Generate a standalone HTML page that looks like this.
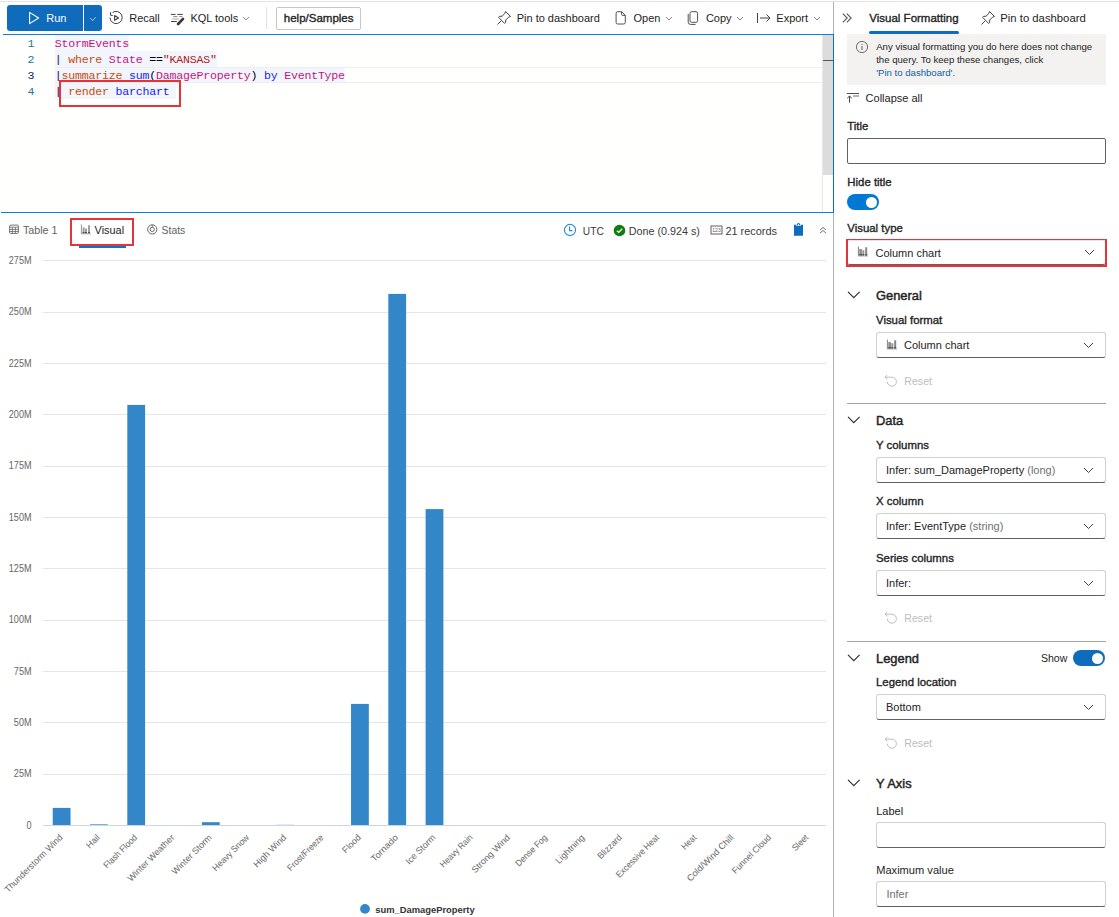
<!DOCTYPE html>
<html><head><meta charset="utf-8"><title>Kusto query - Visual formatting</title>
<style>
html,body{margin:0;padding:0;background:#fff;}
body{width:1119px;height:917px;position:relative;overflow:hidden;font-family:"Liberation Sans", Arial, sans-serif;}
.t{position:absolute;white-space:nowrap;line-height:1;}
.b{position:absolute;}
.i{position:absolute;overflow:visible;}
.m{position:absolute;white-space:pre;font-family:"Liberation Mono", "DejaVu Sans Mono", monospace;font-size:11.6px;letter-spacing:-0.21px;line-height:16px;height:16px;}
</style></head><body>
<div class="b" style="left:0px;top:1px;width:1119px;height:1px;background:#e3e3e3"></div>
<div class="b" style="left:7px;top:5px;width:95px;height:26px;background:#0f6cbd;border-radius:3px"></div>
<div class="b" style="left:83px;top:5px;width:1px;height:26px;background:#ffffff"></div>
<svg class="i" style="left:28px;top:11px;" width="12" height="14" viewBox="0 0 12 14"><path d="M1.6 1.4 L10.6 7 L1.6 12.6 Z" fill="none" stroke="#fff" stroke-width="1.1" stroke-linejoin="round"/></svg>
<div class="t" style="left:46.20px;top:12.69px;font-size:11px;font-weight:400;color:#fff;">Run</div>
<svg class="i" style="left:88px;top:15px;" width="10" height="7" viewBox="0 0 10 7"><path d="M2.1 2.8 L4.7 5.6 L7.6 2.3" fill="none" stroke="#a9c8ea" stroke-width="1"/></svg>
<svg class="i" style="left:108px;top:10px;" width="16" height="16" viewBox="0 0 16 16"><path d="M2 7.6 A6.1 6.1 0 1 0 4.6 2.5" fill="none" stroke="#424242" stroke-width="1"/><path d="M2.4 2.2 L2.7 5.3 L4.8 5.5" fill="none" stroke="#424242" stroke-width="1.1" stroke-linejoin="round"/><path d="M6.6 5.6 L10.5 7.9 L6.6 10.3 Z" fill="none" stroke="#424242" stroke-width="1.15" stroke-linejoin="round"/></svg>
<div class="t" style="left:129.20px;top:12.69px;font-size:11px;font-weight:400;color:#242424;">Recall</div>
<svg class="i" style="left:169px;top:12px;" width="17" height="14" viewBox="0 0 17 14"><path d="M1.9 2.4 H6.6 M8.2 2.4 H13.9 M2 9.5 H7.8" stroke="#444" stroke-width="1"/><path d="M4.2 4.6 H8.5 M10.3 4.6 H13.5" stroke="#8a8a8a" stroke-width="1"/><path d="M3.3 6.9 H10" stroke="#cfcfcf" stroke-width="1.8"/><path d="M14 6.9 L9.1 12" stroke="#383838" stroke-width="2.7" stroke-linecap="round"/></svg>
<div class="t" style="left:190.40px;top:12.69px;font-size:11px;font-weight:400;color:#242424;">KQL tools</div>
<svg class="i" style="left:241px;top:15px;" width="10" height="7" viewBox="0 0 10 7"><path d="M2 2 L5 5 L8 2" fill="none" stroke="#8a8a8a" stroke-width="1"/></svg>
<div class="b" style="left:266px;top:7px;width:1px;height:22px;background:#e0e0e0"></div>
<div class="b" style="left:276px;top:7px;width:83px;height:21px;border:1px solid #c7c7c7;border-radius:2px;background:#fff"></div>
<div class="t" style="left:283.80px;top:12.87px;font-size:11.5px;font-weight:400;color:#242424;-webkit-text-stroke:0.35px currentColor;">help/Samples</div>
<svg class="i" style="left:496px;top:10px;" width="16" height="16" viewBox="0 0 16 16"><path d="M9.5 1.5 L14.5 6.5 L12.5 7.2 L9.8 9.9 L9.6 12.6 L8.6 13.4 L2.6 7.4 L3.4 6.4 L6.1 6.2 L8.8 3.5 Z M5.2 10.8 L1.5 14.5" fill="none" stroke="#424242" stroke-width="1" stroke-linejoin="round"/></svg>
<div class="t" style="left:516.70px;top:12.69px;font-size:11px;font-weight:400;color:#242424;">Pin to dashboard</div>
<svg class="i" style="left:614px;top:10px;" width="14" height="16" viewBox="0 0 14 16"><path d="M3.7 1.7 H7.6 L11.3 5.4 V12.4 A1.6 1.6 0 0 1 9.7 14 H3.7 A1.6 1.6 0 0 1 2.1 12.4 V3.3 A1.6 1.6 0 0 1 3.7 1.7 Z M7.6 1.7 V4.4 A1 1 0 0 0 8.6 5.4 H11.3" fill="none" stroke="#505050" stroke-width="1" stroke-linejoin="round"/></svg>
<div class="t" style="left:633.50px;top:12.69px;font-size:11px;font-weight:400;color:#242424;">Open</div>
<svg class="i" style="left:664px;top:15px;" width="10" height="7" viewBox="0 0 10 7"><path d="M2 2 L5 5 L8 2" fill="none" stroke="#8a8a8a" stroke-width="1"/></svg>
<svg class="i" style="left:686px;top:10px;" width="14" height="16" viewBox="0 0 14 16"><rect x="4" y="1.7" width="7.6" height="10.6" rx="1.6" fill="none" stroke="#505050"/><path d="M2.2 4 V12.2 A2.2 2.2 0 0 0 4.4 14.4 H9.6" fill="none" stroke="#505050"/></svg>
<div class="t" style="left:705.90px;top:12.69px;font-size:11px;font-weight:400;color:#242424;">Copy</div>
<svg class="i" style="left:735px;top:15px;" width="10" height="7" viewBox="0 0 10 7"><path d="M2 2 L5 5 L8 2" fill="none" stroke="#8a8a8a" stroke-width="1"/></svg>
<svg class="i" style="left:756px;top:11px;" width="16" height="14" viewBox="0 0 16 14"><path d="M1.5 2 V12 M4 7 H14 M10.5 3.5 L14 7 L10.5 10.5" fill="none" stroke="#424242" stroke-width="1"/></svg>
<div class="t" style="left:776.30px;top:12.69px;font-size:11px;font-weight:400;color:#242424;">Export</div>
<svg class="i" style="left:812px;top:15px;" width="10" height="7" viewBox="0 0 10 7"><path d="M2 2 L5 5 L8 2" fill="none" stroke="#8a8a8a" stroke-width="1"/></svg>
<div class="b" style="left:1px;top:34px;width:833px;height:179px;background:#fffffe"></div>
<div class="b" style="left:3px;top:34px;width:831px;height:1px;background:#0a7fe0"></div>
<div class="b" style="left:833px;top:34px;width:1px;height:179px;background:#0a6fc4"></div>
<div class="b" style="left:1px;top:212px;width:833px;height:1px;background:#0a7fe0"></div>
<div class="b" style="left:822px;top:35px;width:1px;height:177px;background:#e8e8e8"></div>
<div class="b" style="left:823px;top:35px;width:10px;height:140px;background:#dcdcdc"></div>
<div class="b" style="left:823px;top:60px;width:10px;height:1px;background:#555"></div>
<div class="b" style="left:55px;top:67px;width:767px;height:16px;border:1px solid #eeeeee;border-right:none;box-sizing:border-box"></div>
<div class="b" style="left:54.7px;top:35px;width:74.25px;height:16px;background:#f2f6fc"></div>
<div class="b" style="left:54.7px;top:51px;width:162.0px;height:16px;background:#f2f6fc"></div>
<div class="b" style="left:54.7px;top:68px;width:290.25px;height:14px;background:#f2f6fc"></div>
<div class="b" style="left:54.7px;top:83px;width:121.5px;height:16px;background:#f2f6fc"></div>
<div class="m" style="left:27.5px;top:36px;color:#237893">1</div>
<div class="m" style="left:27.5px;top:52px;color:#237893">2</div>
<div class="m" style="left:27.5px;top:68px;color:#0b216f">3</div>
<div class="m" style="left:27.5px;top:84px;color:#237893">4</div>
<div class="m" style="left:54.7px;top:36px"><span style="color:#c4157f">StormEvents</span></div>
<div class="m" style="left:54.7px;top:52px"><span style="color:#101c60">|</span><span style="color:#000"> </span><span style="color:#cc4a0a">where</span><span style="color:#000"> </span><span style="color:#c4157f">State</span><span style="color:#000"> ==</span><span style="color:#b52019">"KANSAS"</span></div>
<div class="m" style="left:54.7px;top:68px"><span style="color:#101c60">|</span><span style="color:#cc4a0a">summarize</span><span style="color:#000"> </span><span style="color:#1a1aff">sum</span><span style="color:#000">(</span><span style="color:#c4157f">DamageProperty</span><span style="color:#000">)</span><span style="color:#000"> </span><span style="color:#1a1aff">by</span><span style="color:#000"> </span><span style="color:#c4157f">EventType</span></div>
<div class="m" style="left:54.7px;top:84px"><span style="color:#101c60">|</span><span style="color:#000"> </span><span style="color:#cc4a0a">render</span><span style="color:#000"> </span><span style="color:#1a1aff">barchart</span></div>
<div class="b" style="left:59px;top:80px;width:122px;height:27px;border:2px solid #e8323a;box-sizing:border-box"></div>
<svg class="i" style="left:9px;top:224px;" width="11" height="11" viewBox="0 0 11 11"><rect x="0.6" y="1.1" width="8.8" height="8.3" rx="1" fill="none" stroke="#666" stroke-width="0.9"/><path d="M0.6 3.2 H9.4 M0.6 5.4 H9.4 M0.6 7.5 H9.4 M3.4 3.2 V9.4 M6.4 3.2 V9.4" fill="none" stroke="#666" stroke-width="0.8"/></svg>
<div class="t" style="left:23.00px;top:225.24px;font-size:10.7px;font-weight:400;color:#616161;">Table 1</div>
<svg class="i" style="left:80px;top:223px;" width="12" height="13" viewBox="0 0 12 13"><path d="M1.4 1.4 V10.8 H10.8" fill="none" stroke="#9a9a9a" stroke-width="1"/><rect x="2.6" y="4.3" width="2" height="6" fill="#a0a0a0"/><rect x="5" y="5.6" width="2" height="4.7" fill="#a0a0a0"/><rect x="8" y="2.3" width="2" height="8" fill="#a0a0a0"/><path d="M2.6 9.6 H4.6 M5 9.6 H7 M8 9.6 H10" stroke="#444" stroke-width="1"/></svg>
<div class="t" style="left:94.60px;top:225.07px;font-size:10.9px;font-weight:400;color:#242424;">Visual</div>
<div class="b" style="left:79px;top:246px;width:47px;height:2px;background:#0078d4"></div>
<div class="b" style="left:70px;top:218px;width:64px;height:28px;border:2px solid #e8323a;box-sizing:border-box"></div>
<svg class="i" style="left:146px;top:223px;" width="13" height="13" viewBox="0 0 13 13"><circle cx="6.25" cy="6.4" r="4.6" fill="none" stroke="#666" stroke-width="1"/><circle cx="6.25" cy="6.4" r="2.1" fill="none" stroke="#666" stroke-width="1"/><path d="M6.25 1.8 V4.3" stroke="#666" stroke-width="0.8"/></svg>
<div class="t" style="left:161.60px;top:225.50px;font-size:10.4px;font-weight:400;color:#616161;">Stats</div>
<svg class="i" style="left:563px;top:223px;" width="14" height="14" viewBox="0 0 14 14"><circle cx="7" cy="7" r="5.6" fill="none" stroke="#2b88d8" stroke-width="1.1"/><path d="M6.6 3.6 V7.6 H9.4" fill="none" stroke="#2b88d8" stroke-width="1.1"/></svg>
<div class="t" style="left:582.80px;top:226.97px;font-size:10.2px;font-weight:400;color:#3a3a3a;">UTC</div>
<svg class="i" style="left:613px;top:224px;" width="13" height="13" viewBox="0 0 13 13"><circle cx="6.5" cy="6.5" r="5.8" fill="#107c10"/><path d="M3.9 6.7 L5.7 8.4 L9.2 4.8" fill="none" stroke="#fff" stroke-width="1.3"/></svg>
<div class="t" style="left:628.80px;top:225.80px;font-size:10.75px;font-weight:400;color:#3a3a3a;">Done (0.924 s)</div>
<svg class="i" style="left:710px;top:225px;" width="13" height="10" viewBox="0 0 13 10"><rect x="1" y="1" width="11" height="8" fill="none" stroke="#616161"/><text x="6.5" y="7" font-size="5" text-anchor="middle" fill="#616161" font-family="Liberation Sans, sans-serif">123</text></svg>
<div class="t" style="left:725.40px;top:226.33px;font-size:10.95px;font-weight:400;color:#3a3a3a;">21 records</div>
<svg class="i" style="left:793px;top:222px;" width="12" height="15" viewBox="0 0 12 15"><path d="M1 2.8 H3.2 V3.9 H7.8 V2.8 H10 V13.7 H1 Z" fill="#0f6cbd"/><path d="M4.1 3.6 L4.5 2.2 Q5.5 0.7 6.5 2.2 L6.9 3.6" fill="none" stroke="#0f6cbd" stroke-width="1.1"/></svg>
<svg class="i" style="left:818px;top:226px;" width="10" height="8" viewBox="0 0 10 8"><path d="M2 4 L5 1.5 L8 4 M2 7 L5 4.5 L8 7" fill="none" stroke="#616161" stroke-width="0.9"/></svg>
<div class="b" style="left:833px;top:2px;width:1px;height:32px;background:#b0b0b0"></div>
<div class="b" style="left:833px;top:213px;width:1px;height:704px;background:#b0b0b0"></div>
<svg class="i" style="left:0;top:0" width="833" height="917" viewBox="0 0 833 917"><path d="M43 774.5 H826" stroke="#e6e6e6" stroke-width="1"/><path d="M43 722.5 H826" stroke="#e6e6e6" stroke-width="1"/><path d="M43 671.5 H826" stroke="#e6e6e6" stroke-width="1"/><path d="M43 620.5 H826" stroke="#e6e6e6" stroke-width="1"/><path d="M43 568.5 H826" stroke="#e6e6e6" stroke-width="1"/><path d="M43 517.5 H826" stroke="#e6e6e6" stroke-width="1"/><path d="M43 466.5 H826" stroke="#e6e6e6" stroke-width="1"/><path d="M43 414.5 H826" stroke="#e6e6e6" stroke-width="1"/><path d="M43 363.5 H826" stroke="#e6e6e6" stroke-width="1"/><path d="M43 312.5 H826" stroke="#e6e6e6" stroke-width="1"/><path d="M43 260.5 H826" stroke="#e6e6e6" stroke-width="1"/><text x="0" y="0" transform="translate(31.5 828.50) scale(0.89 1)" text-anchor="end" font-size="10.2" fill="#666" font-family="Liberation Sans, sans-serif">0</text><text x="0" y="0" transform="translate(31.5 777.18) scale(0.89 1)" text-anchor="end" font-size="10.2" fill="#666" font-family="Liberation Sans, sans-serif">25M</text><text x="0" y="0" transform="translate(31.5 725.86) scale(0.89 1)" text-anchor="end" font-size="10.2" fill="#666" font-family="Liberation Sans, sans-serif">50M</text><text x="0" y="0" transform="translate(31.5 674.55) scale(0.89 1)" text-anchor="end" font-size="10.2" fill="#666" font-family="Liberation Sans, sans-serif">75M</text><text x="0" y="0" transform="translate(31.5 623.23) scale(0.89 1)" text-anchor="end" font-size="10.2" fill="#666" font-family="Liberation Sans, sans-serif">100M</text><text x="0" y="0" transform="translate(31.5 571.91) scale(0.89 1)" text-anchor="end" font-size="10.2" fill="#666" font-family="Liberation Sans, sans-serif">125M</text><text x="0" y="0" transform="translate(31.5 520.59) scale(0.89 1)" text-anchor="end" font-size="10.2" fill="#666" font-family="Liberation Sans, sans-serif">150M</text><text x="0" y="0" transform="translate(31.5 469.27) scale(0.89 1)" text-anchor="end" font-size="10.2" fill="#666" font-family="Liberation Sans, sans-serif">175M</text><text x="0" y="0" transform="translate(31.5 417.95) scale(0.89 1)" text-anchor="end" font-size="10.2" fill="#666" font-family="Liberation Sans, sans-serif">200M</text><text x="0" y="0" transform="translate(31.5 366.64) scale(0.89 1)" text-anchor="end" font-size="10.2" fill="#666" font-family="Liberation Sans, sans-serif">225M</text><text x="0" y="0" transform="translate(31.5 315.32) scale(0.89 1)" text-anchor="end" font-size="10.2" fill="#666" font-family="Liberation Sans, sans-serif">250M</text><text x="0" y="0" transform="translate(31.5 264.00) scale(0.89 1)" text-anchor="end" font-size="10.2" fill="#666" font-family="Liberation Sans, sans-serif">275M</text><rect x="52.74" y="807.90" width="17.8" height="17.10" fill="#3387c8"/><rect x="90.03" y="824.35" width="17.8" height="0.65" fill="#3387c8"/><rect x="127.31" y="404.90" width="17.8" height="420.10" fill="#3387c8"/><rect x="201.89" y="822.20" width="17.8" height="2.80" fill="#3387c8"/><rect x="276.46" y="824.85" width="17.8" height="0.15" fill="#3387c8"/><rect x="351.03" y="703.90" width="17.8" height="121.10" fill="#3387c8"/><rect x="388.31" y="293.90" width="17.8" height="531.10" fill="#3387c8"/><rect x="425.60" y="509.10" width="17.8" height="315.90" fill="#3387c8"/><path d="M43 825.5 H826" stroke="#ccd6eb" stroke-width="1"/><text x="0" y="0" text-anchor="end" transform="translate(63.14 838.1) rotate(-45) scale(0.983 1)" font-size="9" fill="#666" font-family="Liberation Sans, sans-serif">Thunderstorm Wind</text><text x="0" y="0" text-anchor="end" transform="translate(100.43 838.1) rotate(-45) scale(0.986 1)" font-size="9" fill="#666" font-family="Liberation Sans, sans-serif">Hail</text><text x="0" y="0" text-anchor="end" transform="translate(137.71 838.1) rotate(-45) scale(0.926 1)" font-size="9" fill="#666" font-family="Liberation Sans, sans-serif">Flash Flood</text><text x="0" y="0" text-anchor="end" transform="translate(175.00 838.1) rotate(-45) scale(0.996 1)" font-size="9" fill="#666" font-family="Liberation Sans, sans-serif">Winter Weather</text><text x="0" y="0" text-anchor="end" transform="translate(212.29 838.1) rotate(-45) scale(0.996 1)" font-size="9" fill="#666" font-family="Liberation Sans, sans-serif">Winter Storm</text><text x="0" y="0" text-anchor="end" transform="translate(249.57 838.1) rotate(-45) scale(0.941 1)" font-size="9" fill="#666" font-family="Liberation Sans, sans-serif">Heavy Snow</text><text x="0" y="0" text-anchor="end" transform="translate(286.86 838.1) rotate(-45) scale(1.018 1)" font-size="9" fill="#666" font-family="Liberation Sans, sans-serif">High Wind</text><text x="0" y="0" text-anchor="end" transform="translate(324.14 838.1) rotate(-45) scale(0.923 1)" font-size="9" fill="#666" font-family="Liberation Sans, sans-serif">Frost/Freeze</text><text x="0" y="0" text-anchor="end" transform="translate(361.43 838.1) rotate(-45) scale(0.979 1)" font-size="9" fill="#666" font-family="Liberation Sans, sans-serif">Flood</text><text x="0" y="0" text-anchor="end" transform="translate(398.71 838.1) rotate(-45) scale(1.052 1)" font-size="9" fill="#666" font-family="Liberation Sans, sans-serif">Tornado</text><text x="0" y="0" text-anchor="end" transform="translate(436.00 838.1) rotate(-45) scale(0.986 1)" font-size="9" fill="#666" font-family="Liberation Sans, sans-serif">Ice Storm</text><text x="0" y="0" text-anchor="end" transform="translate(473.29 838.1) rotate(-45) scale(0.907 1)" font-size="9" fill="#666" font-family="Liberation Sans, sans-serif">Heavy Rain</text><text x="0" y="0" text-anchor="end" transform="translate(510.57 838.1) rotate(-45) scale(1.014 1)" font-size="9" fill="#666" font-family="Liberation Sans, sans-serif">Strong Wind</text><text x="0" y="0" text-anchor="end" transform="translate(547.86 838.1) rotate(-45) scale(0.93 1)" font-size="9" fill="#666" font-family="Liberation Sans, sans-serif">Dense Fog</text><text x="0" y="0" text-anchor="end" transform="translate(585.14 838.1) rotate(-45) scale(1.015 1)" font-size="9" fill="#666" font-family="Liberation Sans, sans-serif">Lightning</text><text x="0" y="0" text-anchor="end" transform="translate(622.43 838.1) rotate(-45) scale(0.95 1)" font-size="9" fill="#666" font-family="Liberation Sans, sans-serif">Blizzard</text><text x="0" y="0" text-anchor="end" transform="translate(659.71 838.1) rotate(-45) scale(0.92 1)" font-size="9" fill="#666" font-family="Liberation Sans, sans-serif">Excessive Heat</text><text x="0" y="0" text-anchor="end" transform="translate(697.00 838.1) rotate(-45) scale(0.902 1)" font-size="9" fill="#666" font-family="Liberation Sans, sans-serif">Heat</text><text x="0" y="0" text-anchor="end" transform="translate(734.29 838.1) rotate(-45) scale(1.011 1)" font-size="9" fill="#666" font-family="Liberation Sans, sans-serif">Cold/Wind Chill</text><text x="0" y="0" text-anchor="end" transform="translate(771.57 838.1) rotate(-45) scale(0.954 1)" font-size="9" fill="#666" font-family="Liberation Sans, sans-serif">Funnel Cloud</text><text x="0" y="0" text-anchor="end" transform="translate(808.86 838.1) rotate(-45) scale(0.928 1)" font-size="9" fill="#666" font-family="Liberation Sans, sans-serif">Sleet</text><circle cx="365" cy="908.9" r="4.9" fill="#3387c8"/><text x="375.2" y="912.7" font-size="9.4" font-weight="700" fill="#333" font-family="Liberation Sans, sans-serif">sum_DamageProperty</text></svg>
<svg class="i" style="left:841px;top:12px;" width="12" height="12" viewBox="0 0 12 12"><path d="M1.8 1.6 L6.2 6 L1.8 10.4 M5.8 1.6 L10.2 6 L5.8 10.4" fill="none" stroke="#555" stroke-width="1.1"/></svg>
<div class="t" style="left:869.30px;top:12.57px;font-size:11.5px;font-weight:400;color:#242424;-webkit-text-stroke:0.35px currentColor;">Visual Formatting</div>
<div class="b" style="left:869px;top:31px;width:90px;height:3px;background:#0f6cbd;border-radius:1.5px"></div>
<svg class="i" style="left:980px;top:10px;" width="16" height="16" viewBox="0 0 16 16"><path d="M9.5 1.5 L14.5 6.5 L12.5 7.2 L9.8 9.9 L9.6 12.6 L8.6 13.4 L2.6 7.4 L3.4 6.4 L6.1 6.2 L8.8 3.5 Z M5.2 10.8 L1.5 14.5" fill="none" stroke="#424242" stroke-width="1" stroke-linejoin="round"/></svg>
<div class="t" style="left:1000.30px;top:13.03px;font-size:11.3px;font-weight:400;color:#242424;">Pin to dashboard</div>
<div class="b" style="left:847px;top:34px;width:259px;height:51px;background:#f3f2f1"></div>
<svg class="i" style="left:855px;top:40px;" width="14" height="14" viewBox="0 0 14 14"><circle cx="7" cy="7" r="5.6" fill="none" stroke="#616161" stroke-width="0.9"/><path d="M7 6 V10" stroke="#616161" stroke-width="1"/><circle cx="7" cy="4.3" r="0.6" fill="#616161"/></svg>
<div class="t" style="left:876.20px;top:41.57px;font-size:9.6px;font-weight:400;color:#242424;">Any visual formatting you do here does not change</div>
<div class="t" style="left:876.20px;top:54.77px;font-size:9.6px;font-weight:400;color:#242424;">the query. To keep these changes, click</div>
<div class="t" style="left:876.20px;top:67.57px;font-size:9.6px;font-weight:400;color:#115ea3;">'Pin to dashboard'.</div>
<svg class="i" style="left:846px;top:91px;" width="15" height="14" viewBox="0 0 15 14"><path d="M0.8 2.5 H13" stroke="#505050" stroke-width="1"/><path d="M7.1 5 H13" stroke="#9a9a9a" stroke-width="1.5"/><path d="M3.5 11.6 V5.2 M1.2 7.3 L3.5 5 L5.8 7.3" fill="none" stroke="#404040" stroke-width="1"/></svg>
<div class="t" style="left:865.60px;top:93.09px;font-size:11px;font-weight:400;color:#242424;">Collapse all</div>
<div class="t" style="left:847.30px;top:121.05px;font-size:11.4px;font-weight:400;color:#242424;-webkit-text-stroke:0.35px currentColor;">Title</div>
<div class="b" style="left:847px;top:138px;width:259px;height:26px;border:1px solid #616161;border-radius:2px;box-sizing:border-box;background:#fff"></div>
<div class="t" style="left:847.30px;top:177.15px;font-size:11.4px;font-weight:400;color:#242424;-webkit-text-stroke:0.35px currentColor;">Hide title</div>
<div class="b" style="left:847px;top:194px;width:32px;height:16px;background:#0078d4;border-radius:8px"></div>
<div class="b" style="left:866px;top:196.5px;width:11px;height:11px;border-radius:50%;background:#fff"></div>
<div class="t" style="left:847.30px;top:222.65px;font-size:11.4px;font-weight:400;color:#242424;-webkit-text-stroke:0.35px currentColor;">Visual type</div>
<div class="b" style="left:847px;top:240px;width:259px;height:25px;border:1px solid #dfe8e8;border-bottom-color:#616161;border-radius:3px;box-sizing:border-box;background:#fff"></div>
<div class="b" style="left:846px;top:239px;width:261px;height:28px;border:2px solid #e8323a;border-top-width:1.5px;box-sizing:border-box"></div>
<svg class="i" style="left:857px;top:246px;" width="12" height="12" viewBox="0 0 12 12"><rect x="2.3" y="3" width="2.6" height="7" fill="#8c8c8c"/><rect x="5.3" y="4.2" width="2" height="5.8" fill="#969696"/><rect x="8.2" y="1.3" width="2" height="8.7" fill="#858585"/><path d="M2.3 8.9 H4.9 M5.3 8.9 H7.3 M8.2 8.9 H10.2" stroke="#3a3a3a" stroke-width="1.2"/><path d="M1.4 0.6 V10.2" stroke="#8a7a9a" stroke-width="1"/><path d="M1.4 10.2 H11" stroke="#c0c0c8" stroke-width="1"/></svg>
<div class="t" style="left:875.50px;top:247.99px;font-size:11px;color:#242424">Column chart</div>
<svg class="i" style="left:1084px;top:249px;" width="12" height="7" viewBox="0 0 12 7"><path d="M1 1 L5.5 5.5 L10 1" fill="none" stroke="#424242" stroke-width="1"/></svg>
<div class="t" style="left:876.00px;top:290.18px;font-size:12.9px;font-weight:400;color:#242424;-webkit-text-stroke:0.45px currentColor;">General</div>
<svg class="i" style="left:846px;top:290px;" width="15" height="10" viewBox="0 0 15 10"><path d="M2 1.8 L7.8 7.6 L13.6 1.8" fill="none" stroke="#303030" stroke-width="1.15"/></svg>
<div class="t" style="left:876.00px;top:315.35px;font-size:11.4px;font-weight:400;color:#242424;-webkit-text-stroke:0.35px currentColor;">Visual format</div>
<div class="b" style="left:876px;top:332px;width:230px;height:26px;border:1px solid #d1d1d1;border-bottom-color:#616161;border-radius:3px;box-sizing:border-box;background:#fff"></div>
<svg class="i" style="left:886px;top:339px;" width="12" height="12" viewBox="0 0 12 12"><rect x="2.3" y="3" width="2.6" height="7" fill="#8c8c8c"/><rect x="5.3" y="4.2" width="2" height="5.8" fill="#969696"/><rect x="8.2" y="1.3" width="2" height="8.7" fill="#858585"/><path d="M2.3 8.9 H4.9 M5.3 8.9 H7.3 M8.2 8.9 H10.2" stroke="#3a3a3a" stroke-width="1.2"/><path d="M1.4 0.6 V10.2" stroke="#8a7a9a" stroke-width="1"/><path d="M1.4 10.2 H11" stroke="#c0c0c8" stroke-width="1"/></svg>
<div class="t" style="left:904.00px;top:339.69px;font-size:11px;color:#242424">Column chart</div>
<svg class="i" style="left:1083px;top:342px;" width="12" height="7" viewBox="0 0 12 7"><path d="M1 1 L5.5 5.5 L10 1" fill="none" stroke="#424242" stroke-width="1"/></svg>
<svg class="i" style="left:884px;top:373px;" width="14" height="14" viewBox="0 0 14 14"><path d="M1 4.2 H7.9 A4.5 4.5 0 1 1 3.4 8.7" fill="none" stroke="#bdbdbd" stroke-width="1"/><path d="M3.3 2 L1 4.2 L3.3 6.4" fill="none" stroke="#bdbdbd" stroke-width="1"/></svg>
<div class="t" style="left:904.30px;top:376.03px;font-size:10.6px;font-weight:400;color:#bdbdbd;">Reset</div>
<div class="b" style="left:847px;top:403px;width:259px;height:1px;background:#a3a3a3"></div>
<svg class="i" style="left:846px;top:415px;" width="15" height="10" viewBox="0 0 15 10"><path d="M2 1.8 L7.8 7.6 L13.6 1.8" fill="none" stroke="#303030" stroke-width="1.15"/></svg>
<div class="t" style="left:876.00px;top:415.18px;font-size:12.9px;font-weight:400;color:#242424;-webkit-text-stroke:0.45px currentColor;">Data</div>
<div class="t" style="left:876.00px;top:440.15px;font-size:11.4px;font-weight:400;color:#242424;-webkit-text-stroke:0.35px currentColor;">Y columns</div>
<div class="b" style="left:876px;top:457px;width:230px;height:26px;border:1px solid #d1d1d1;border-bottom-color:#616161;border-radius:3px;box-sizing:border-box;background:#fff"></div>
<div class="t" style="left:886.00px;top:464.69px;font-size:11px;color:#242424">Infer: sum_DamageProperty <span style="color:#707070">(long)</span></div>
<svg class="i" style="left:1083px;top:467px;" width="12" height="7" viewBox="0 0 12 7"><path d="M1 1 L5.5 5.5 L10 1" fill="none" stroke="#424242" stroke-width="1"/></svg>
<div class="t" style="left:876.00px;top:495.95px;font-size:11.4px;font-weight:400;color:#242424;-webkit-text-stroke:0.35px currentColor;">X column</div>
<div class="b" style="left:876px;top:513px;width:230px;height:26px;border:1px solid #d1d1d1;border-bottom-color:#616161;border-radius:3px;box-sizing:border-box;background:#fff"></div>
<div class="t" style="left:886.00px;top:520.69px;font-size:11px;color:#242424">Infer: EventType <span style="color:#707070">(string)</span></div>
<svg class="i" style="left:1083px;top:523px;" width="12" height="7" viewBox="0 0 12 7"><path d="M1 1 L5.5 5.5 L10 1" fill="none" stroke="#424242" stroke-width="1"/></svg>
<div class="t" style="left:876.00px;top:553.25px;font-size:11.4px;font-weight:400;color:#242424;-webkit-text-stroke:0.35px currentColor;">Series columns</div>
<div class="b" style="left:876px;top:570px;width:230px;height:26px;border:1px solid #d1d1d1;border-bottom-color:#616161;border-radius:3px;box-sizing:border-box;background:#fff"></div>
<div class="t" style="left:886.00px;top:577.69px;font-size:11px;color:#242424">Infer:</div>
<svg class="i" style="left:1083px;top:580px;" width="12" height="7" viewBox="0 0 12 7"><path d="M1 1 L5.5 5.5 L10 1" fill="none" stroke="#424242" stroke-width="1"/></svg>
<svg class="i" style="left:884px;top:610px;" width="14" height="14" viewBox="0 0 14 14"><path d="M1 4.2 H7.9 A4.5 4.5 0 1 1 3.4 8.7" fill="none" stroke="#bdbdbd" stroke-width="1"/><path d="M3.3 2 L1 4.2 L3.3 6.4" fill="none" stroke="#bdbdbd" stroke-width="1"/></svg>
<div class="t" style="left:904.30px;top:613.23px;font-size:10.6px;font-weight:400;color:#bdbdbd;">Reset</div>
<div class="b" style="left:847px;top:641px;width:259px;height:1px;background:#a3a3a3"></div>
<svg class="i" style="left:846px;top:653px;" width="15" height="10" viewBox="0 0 15 10"><path d="M2 1.8 L7.8 7.6 L13.6 1.8" fill="none" stroke="#303030" stroke-width="1.15"/></svg>
<div class="t" style="left:876.00px;top:652.98px;font-size:12.9px;font-weight:400;color:#242424;-webkit-text-stroke:0.45px currentColor;">Legend</div>
<div class="t" style="left:1041.00px;top:653.31px;font-size:10.5px;font-weight:400;color:#242424;">Show</div>
<div class="b" style="left:1073px;top:650px;width:32px;height:16px;background:#0f6cbd;border-radius:8px"></div>
<div class="b" style="left:1091.7px;top:652.7px;width:11px;height:11px;border-radius:50%;background:#fff"></div>
<div class="t" style="left:876.00px;top:677.05px;font-size:11.4px;font-weight:400;color:#242424;-webkit-text-stroke:0.35px currentColor;">Legend location</div>
<div class="b" style="left:876px;top:694px;width:230px;height:26px;border:1px solid #d1d1d1;border-bottom-color:#616161;border-radius:3px;box-sizing:border-box;background:#fff"></div>
<div class="t" style="left:886.00px;top:701.69px;font-size:11px;color:#242424">Bottom</div>
<svg class="i" style="left:1083px;top:704px;" width="12" height="7" viewBox="0 0 12 7"><path d="M1 1 L5.5 5.5 L10 1" fill="none" stroke="#424242" stroke-width="1"/></svg>
<svg class="i" style="left:884px;top:735px;" width="14" height="14" viewBox="0 0 14 14"><path d="M1 4.2 H7.9 A4.5 4.5 0 1 1 3.4 8.7" fill="none" stroke="#bdbdbd" stroke-width="1"/><path d="M3.3 2 L1 4.2 L3.3 6.4" fill="none" stroke="#bdbdbd" stroke-width="1"/></svg>
<div class="t" style="left:904.30px;top:738.03px;font-size:10.6px;font-weight:400;color:#bdbdbd;">Reset</div>
<svg class="i" style="left:846px;top:778px;" width="15" height="10" viewBox="0 0 15 10"><path d="M2 1.8 L7.8 7.6 L13.6 1.8" fill="none" stroke="#303030" stroke-width="1.15"/></svg>
<div class="t" style="left:876.00px;top:778.18px;font-size:12.9px;font-weight:400;color:#242424;-webkit-text-stroke:0.45px currentColor;">Y Axis</div>
<div class="t" style="left:876.20px;top:806.29px;font-size:11px;font-weight:400;color:#242424;">Label</div>
<div class="b" style="left:876px;top:822px;width:230px;height:26px;border:1px solid #d1d1d1;border-bottom-color:#616161;border-radius:3px;box-sizing:border-box;background:#fff"></div>
<div class="t" style="left:876.20px;top:865.00px;font-size:11.1px;font-weight:400;color:#242424;">Maximum value</div>
<div class="b" style="left:876px;top:881px;width:230px;height:26px;border:1px solid #d1d1d1;border-bottom-color:#616161;border-radius:3px;box-sizing:border-box;background:#fff"></div>
<div class="t" style="left:886.40px;top:889.29px;font-size:11px;font-weight:400;color:#707070;">Infer</div>
</body></html>
